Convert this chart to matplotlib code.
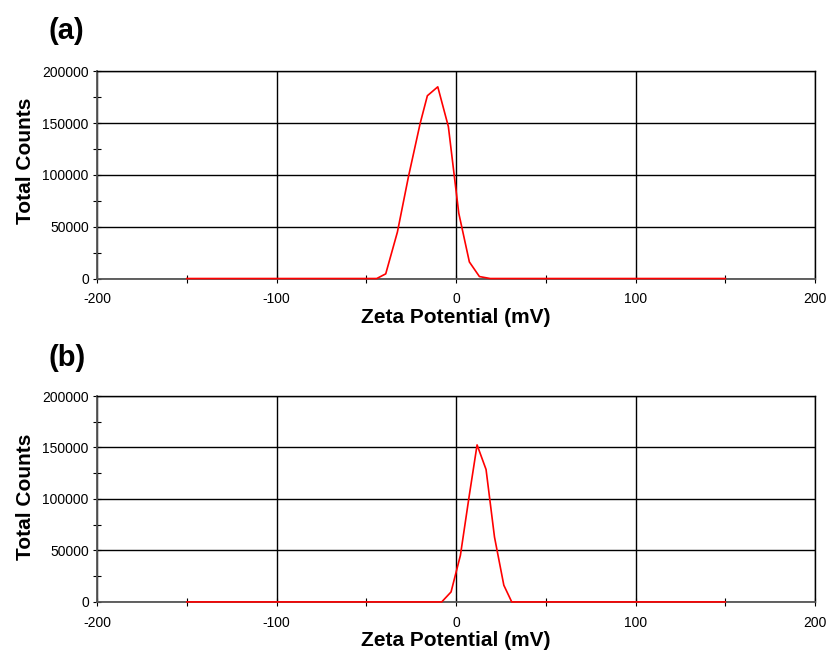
import numpy as np
import matplotlib.pyplot as plt
from matplotlib.ticker import MultipleLocator

plt.rcParams['font.family'] = ['Liberation Sans', 'DejaVu Sans']
plt.rcParams['axes.unicode_minus'] = False

# zeta potential distributions
zeta_a = [-150, -44.2, -39.2, -32.7, -26.5, -20.0, -16.0, -10.2, -4.3, 1.5, 7.4, 13.0, 19.0, 150]
counts_a = [0, 0, 4500, 44800, 98600, 149800, 176400, 185000, 146600, 63000, 16000, 1900, 0, 0]

zeta_b = [-150, -8.0, -2.8, 2.4, 7.4, 11.7, 16.7, 21.4, 26.6, 31.0, 150]
counts_b = [0, 0, 9700, 45200, 104000, 152500, 128600, 63000, 16200, 0, 0]

panels = [('(a)', zeta_a, counts_a), ('(b)', zeta_b, counts_b)]
boxes = [[0.117, 0.578, 0.865, 0.314], [0.117, 0.088, 0.865, 0.312]]
tag_y = [0.953, 0.457]
ylab_y = [0.57, 0.51]

fig = plt.figure(figsize=(8.3, 6.6), dpi=100)

for (tag, zx, cy), box, ty, ly in zip(panels, boxes, tag_y, ylab_y):
    ax = fig.add_axes(box)
    ax.plot(zx, cy, color='#ff0000', lw=1.2, zorder=3, clip_on=False)
    ax.set_xlim(-200, 200)
    ax.set_ylim(0, 200000)
    ax.xaxis.set_major_locator(MultipleLocator(100))
    ax.xaxis.set_minor_locator(MultipleLocator(50))
    ax.yaxis.set_major_locator(MultipleLocator(50000))
    ax.yaxis.set_minor_locator(MultipleLocator(25000))
    ax.grid(True, which='major', color='black', lw=1.0)
    ax.tick_params(which='both', direction='inout', labelsize=10, width=0.8,
                   top=False, right=False, length=6)
    ax.tick_params(axis='x', pad=7)
    ax.tick_params(axis='y', pad=3)
    for s in ['left', 'bottom']:
        ax.spines[s].set_color('#555555')
        ax.spines[s].set_linewidth(1.3)
    for s in ['top', 'right']:
        ax.spines[s].set_color('black')
        ax.spines[s].set_linewidth(1.0)
    ax.set_xlabel('Zeta Potential (mV)', fontsize=15, fontweight='bold', labelpad=1)
    ax.set_ylabel('Total Counts', fontsize=15, fontweight='bold')
    ax.yaxis.set_label_coords(-0.086, ly)
    fig.text(0.059, ty, tag, fontsize=21, fontweight='bold', va='center')

fig.savefig('out.png', dpi=100)
